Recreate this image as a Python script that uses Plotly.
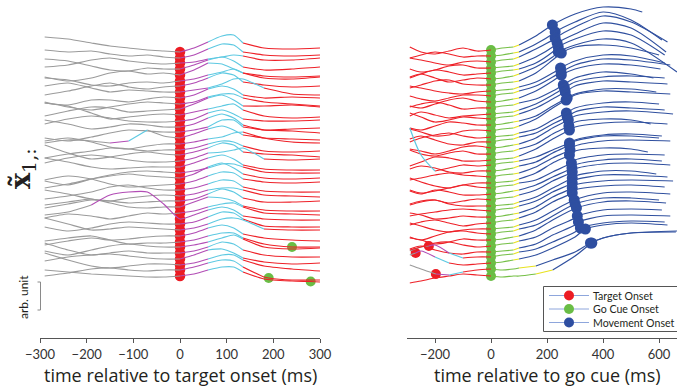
import plotly.graph_objects as go

# ---------------- data ----------------
# Left panel: aligned to target onset
T_L = [-290, -240, -190, -150, -110, -70, -35, 0, 30, 60, 90, 115, 135, 180, 240, 300]
BASE_L = [52, 58, 63, 69, 75, 81, 86, 92, 98, 104, 109, 115, 121, 127, 132, 138, 144, 150, 155, 161,
          167, 173, 178, 184, 190, 196, 201, 207, 213, 219, 224, 230, 236, 242, 247, 253, 259, 265, 270, 276]
OFF_L = [
    [-15, -13, -9, -6, -4, -2, -1, 0, -4, -10, -16, -17, -9, -4, -3, -4],
    [-8, -6, -7, -4, -2, -3, -1, 0, -3, -9, -14, -13, -6, -3, -2, -3],
    [4, 2, -3, -5, -2, 0, 1, 0, -1, -4, -6, -8, -7, -3, -3, -5],
    [-10, -8, -3, 1, 2, -1, 0, 0, -4, -9, -12, -8, -2, 1, 0, -2],
    [2, 6, 3, -2, -4, -1, -2, 0, -5, -12, -11, -6, -2, 1, 2, 1],
    [-3, -1, 4, 5, 2, 1, 2, 0, -2, -6, -9, -12, -8, -3, -2, -4],
    [9, 5, 0, -3, 1, 3, 1, 0, -3, -8, -13, -11, -4, -1, 1, 0],
    [-6, -9, -4, 0, -2, -1, 0, 0, -2, -4, -8, -13, -13, -4, 2, 3],
    [5, 7, 2, 2, 4, 1, -1, 0, -3, -9, -12, -9, -3, 0, -1, 0],
    [-2, 3, 6, 3, 0, -2, -1, 0, -2, -7, -10, -10, -6, -2, 0, 2],
    [7, 2, -2, -1, 3, 2, 1, 0, -5, -11, -14, -9, -3, -3, -4, -2],
    [-12, -9, -2, 4, 2, 0, -1, 0, -3, -6, -9, -11, -5, 1, 3, 2],
    [3, -2, -5, -3, 0, 1, 1, 0, -2, -8, -11, -7, -2, 0, 0, -1],
    [-7, -3, 2, 0, -3, -2, 0, 0, -3, -9, -13, -9, -2, 3, 2, 1],
    [6, 9, 5, 1, -2, -1, 0, 0, -2, -5, -12, -12, -5, -2, -1, 1],
    [5, 2, 3, 5, 3, -8, -2, 0, -4, -9, -12, -8, -3, 0, 1, 2],
    [-3, -6, -2, 3, 5, 2, 0, 0, -2, -5, -7, -11, -12, -6, -2, -1],
    [8, 4, 1, -2, -1, 1, 0, 0, -2, -6, -9, -8, -4, 1, 2, 1],
    [-10, -2, 4, 2, -1, -3, -1, 0, -3, -7, -12, -10, -3, -1, 0, 2],
    [2, -3, -6, -4, -1, 1, 1, 0, -3, -8, -9, -11, -13, -2, -1, -2],
    [-9, -5, 0, 2, 1, 0, 0, 0, -4, -9, -12, -8, -2, 2, 3, 3],
    [8, 12, 6, 2, -1, -2, -1, 0, -2, -5, -9, -9, -6, -1, 0, 0],
    [10, 6, 1, -2, -4, -2, -1, 0, -4, -11, -15, -10, -4, 0, 1, 0],
    [-4, -8, -5, 0, 3, 2, 1, 0, -3, -8, -12, -11, -5, -2, -1, -2],
    [9, 6, 2, -3, -5, -2, 0, 0, -2, -6, -10, -9, -3, 1, 2, 2],
    [-6, -2, 3, 5, 2, 0, -1, 0, -2, -6, -8, -8, -6, -1, 0, 1],
    [7, 3, -1, 0, 2, 1, 0, 0, -2, -7, -12, -9, -3, 1, 1, 0],
    [-2, -5, -8, -4, 0, 1, 0, 0, -5, -10, -9, -6, -1, 3, 4, 4],
    [5, 1, 3, 6, 3, 0, 1, 0, -2, -6, -9, -10, -6, 0, 1, 2],
    [-4, -7, -14, -24, -27, -27, -15, 0, -4, -9, -12, -9, -3, 0, 1, 1],
    [3, 7, 4, 0, -2, -1, 0, 0, -2, -7, -12, -11, -5, 2, 3, 3],
    [-12, -6, 0, -1, -3, -2, -1, 0, -2, -6, -11, -12, -10, -1, 0, 0],
    [9, 5, 2, 4, 3, 1, 0, 0, -3, -8, -11, -8, -2, 2, 4, 5],
    [-1, -4, -6, -2, 2, 1, 1, 0, -2, -6, -9, -9, -4, 2, 5, 5],
    [4, 8, 3, -1, -3, -1, 0, 0, -2, -5, -9, -12, -8, 0, 2, 1],
    [-10, -3, 2, 0, -2, 0, 0, 0, -2, -6, -11, -9, -3, 2, 4, 4],
    [2, -2, -4, -5, -3, -1, 0, 0, -4, -9, -10, -6, -1, 3, 5, 4],
    [-12, -5, 1, 3, 1, -1, -1, 0, -2, -6, -10, -10, -5, 1, 4, 6],
    [6, 3, -1, -2, 0, 1, 0, 0, -3, -7, -10, -9, -3, 7, 10, 10],
    [-6, -4, -2, -1, 0, 1, 1, 0, -2, -6, -9, -9, -4, 3, 5, 6],
]
GO_L_TRIAL = [33, 38, 39]
GO_L_TIME = [240, 190, 280]
GO_L_VAL = [5, 8, 5.5]
SPECIAL_L = [(15, -150, -110, "magenta"), (15, -110, -70, "cyan"), (29, -190, 0, "magenta"),
             (19, 135, 180, "cyan"), (31, 135, 180, "cyan"), (7, 135, 180, "cyan")]

# Right panel: aligned to go cue
T_R = [-290, -250, -200, -150, -100, -50, 0, 40, 80, 100, 160, 220, 300, 400, 500]
END_R = [540, 610, 630, 625, 620, 664, 600, 620, 640, 605, 580, 620, 630, 590, 640, 600, 620, 650, 570, 630,
         610, 600, 640, 560, 620, 610, 640, 590, 630, 650, 620, 640, 600, 625, 610, 640, 620, 630, 660, 664]
BASE_R = [50, 56, 62, 68, 73, 79, 85, 91, 96, 102, 108, 114, 119, 125, 131, 137, 142, 148, 154, 160,
          165, 171, 177, 183, 188, 194, 200, 206, 211, 217, 223, 229, 234, 240, 246, 252, 257, 263, 269, 276]
OFF_R = [
    [-3, 2, 4, 1, -2, 1, 0, -2, -3, -5, -14, -26, -36, -43, -41, -38],
    [2, -1, -4, -2, 1, 0, 0, -1, -3, -4, -12, -22, -34, -44, -36, -16],
    [-4, -2, 1, 3, 0, -1, 0, -2, -3, -5, -13, -22, -35, -46, -40, -20],
    [1, 4, 2, -2, -3, 0, 0, -1, -2, -4, -11, -21, -34, -45, -40, -16],
    [5, 1, -3, -1, 2, 1, 0, -2, -3, -4, -10, -21, -34, -42, -38, -18],
    [-2, -5, -1, 3, 1, -1, 0, -1, -3, -5, -12, -22, -34, -40, -36, -7],
    [3, 0, -4, -5, -1, 0, 0, -2, -3, -4, -12, -25, -38, -40, -37, -30],
    [-5, -3, 0, 2, 3, 1, 0, -1, -2, -4, -9, -18, -30, -36, -35, -28],
    [0, 3, 5, 2, -1, -1, 0, -2, -3, -5, -10, -19, -31, -37, -36, -31],
    [4, 6, 2, -2, -4, -1, 0, -1, -3, -4, -11, -21, -33, -38, -37, -33],
    [-1, -4, -6, -3, 1, 0, 0, -2, -3, -5, -9, -17, -30, -36, -34, -30],
    [2, -2, 1, 4, 2, 1, 0, -1, -2, -4, -10, -19, -32, -37, -38, -36],
    [-6, -2, 3, 1, -2, -1, 0, -2, -3, -5, -11, -20, -33, -38, -37, -35],
    [3, 5, 1, -3, -2, 0, 0, -1, -3, -4, -9, -19, -31, -36, -36, -33],
    [-2, 1, 5, 4, 0, -1, 0, -2, -3, -5, -12, -23, -36, -40, -39, -37],
    [5, 1, -2, -4, -1, 1, 0, -1, -2, -4, -8, -17, -29, -34, -35, -33],
    [-3, -6, -2, 2, 3, 0, 0, -2, -3, -5, -9, -18, -30, -35, -34, -32],
    [1, 3, 6, 3, -1, -2, 0, -1, -3, -4, -10, -20, -32, -36, -37, -34],
    [-4, 0, 2, -1, -3, 0, 0, -2, -3, -5, -10, -20, -32, -35, -34, -30],
    [6, 2, -3, -2, 1, 1, 0, -1, -2, -4, -11, -21, -33, -37, -38, -36],
    [-37, -10, 6, 3, 0, 1, 0, -2, -3, -4, -8, -15, -25, -30, -31, -29],
    [-2, -5, -3, 1, 2, 0, 0, -1, -3, -5, -9, -18, -30, -35, -35, -33],
    [3, 1, -2, -4, -2, -1, 0, -2, -3, -4, -10, -19, -31, -36, -37, -36],
    [-5, -1, 3, 5, 2, 0, 0, -1, -2, -4, -10, -20, -32, -35, -34, -31],
    [2, 5, 3, 0, -3, -1, 0, -2, -3, -5, -8, -16, -28, -33, -34, -33],
    [-3, 0, -4, -2, 1, 1, 0, -1, -3, -4, -9, -17, -29, -34, -35, -33],
    [4, 1, 0, 3, 1, -1, 0, -2, -3, -5, -10, -19, -31, -36, -37, -35],
    [-1, -4, -6, -2, 0, 0, 0, -1, -2, -4, -9, -18, -30, -35, -35, -32],
    [5, 3, 1, -1, -2, -1, 0, -2, -3, -5, -10, -19, -31, -36, -36, -34],
    [-4, -2, 2, 1, -1, 0, 0, -1, -3, -4, -10, -20, -32, -36, -37, -36],
    [2, -1, -3, 0, 3, 1, 0, -2, -3, -5, -11, -21, -33, -37, -38, -36],
    [-6, -3, 1, 3, 1, 0, 0, -1, -2, -4, -9, -18, -30, -36, -37, -35],
    [3, 6, 2, -2, -3, -1, 0, -2, -3, -5, -9, -18, -30, -36, -36, -34],
    [-2, 0, 4, 2, -1, 0, 0, -1, -3, -4, -10, -20, -30, -38, -39, -37],
    [4, 1, -3, -4, -1, 1, 0, -2, -3, -5, -9, -18, -28, -36, -37, -36],
    [-3, -6, -2, 1, 2, 0, 0, -1, -2, -4, -8, -17, -27, -36, -37, -36],
    [-6, -10, -12, -4, 1, 0, 0, -2, -3, -5, -8, -15, -25, -34, -36, -35],
    [-8, -12, -6, 0, 2, 1, 0, -1, -3, -4, -8, -15, -26, -38, -40, -38],
    [-4, 0, 4, 6, 3, 1, 0, 1, 0, -1, -3, -9, -17, -31, -36, -37],
    [7, 5, 2, 0, -2, -1, 0, 1, 0, 0, -2, -6, -20, -38, -43, -45],
]
MOVE_TIME_R = [219, 229, 229, 236, 240, 240, 251, 248, 250, 251, 258, 262, 265, 272, 268, 269, 272, 276, 278, 280,
               280, 280, 282, 280, 287, 289, 290, 290, 290, 290, 290, 297, 300, 305, 308, 312, 319, 337, 355, 360]
MOVE_VAL_R = [-25, -24, -24, -25, -26, -27, -32, -23, -24, -27, -23, -26, -27, -27, -31, -24, -25, -28, -28, -30,
              -22, -26, -27, -28, -25, -26, -28, -28, -28, -29, -30, -29, -30, -32, -30, -30, -29, -34, -26, -33]
TGT_R_TRIAL = [36, 37, 38]
TGT_R_TIME = [-222, -269, -197]
TGT_R_VAL = [-11, -10, 5]
GO_WIN_R = {38: (100, 160), 39: (160, 220)}
SPECIAL_R = [(20, -290, -200, "cyan"),
             (36, -290, -222, "gray"), (36, -222, -150, "magenta"), (36, -150, -100, "cyan"),
             (37, -290, -269, "gray"), (37, -269, -200, "magenta"), (37, -200, -150, "cyan"),
             (38, -290, -197, "gray"), (38, -197, -150, "magenta"), (38, -150, -100, "cyan")]

TICKS_L = [-300, -200, -100, 0, 100, 200, 300]
TICKS_R = [-200, 0, 200, 400, 600]
LEGEND_LABELS = ["Target Onset", "Go Cue Onset", "Movement Onset"]

# ---------------- style ----------------
COL = {"gray": "#9b9b9b", "magenta": "#b24db5", "cyan": "#5ec9e2", "red": "#ee2128",
       "green": "#74bf45", "yellow": "#e8e21f", "blue": "#30509f"}
DOT_RED, DOT_GREEN, DOT_BLUE = "#ec1c24", "#6abd45", "#2e4ea1"
W, H = 677, 387
FONT = "Lato"
TXT = "#231f20"


def px(x):
    return x / W


def py(y):
    return 1 - y / H


def build(times, vals, base, extra):
    pts = [(t, v) for t, v in zip(times, vals) if all(abs(t - e[0]) >= 8 for e in extra)]
    pts += list(extra)
    pts.sort()
    return [(t, base + v) for t, v in pts]


def color_L(i, m):
    for tr, s, e, c in SPECIAL_L:
        if tr == i and s <= m <= e:
            return c
    if m < 0:
        return "gray"
    if m < 60:
        return "magenta"
    if m < 135:
        return "cyan"
    return "red"


def color_R(i, m):
    for tr, s, e, c in SPECIAL_R:
        if tr == i and s <= m <= e:
            return c
    if m < 0:
        return "red"
    g, yl = GO_WIN_R.get(i, (80, 100))
    if m < g:
        return "green"
    if m < yl:
        return "yellow"
    return "blue"


def add_segments(buckets, pts, colfn, i):
    run = None
    for (t0, y0), (t1, y1) in zip(pts[:-1], pts[1:]):
        c = colfn(i, (t0 + t1) / 2)
        xs, ys = buckets.setdefault(c, ([], []))
        if c != run:
            if xs:
                xs.append(None)
                ys.append(None)
            xs.append(t0)
            ys.append(y0)
            run = c
        xs.append(t1)
        ys.append(y1)


fig = go.Figure()

# --- event dots (drawn below the lines) ---
fig.add_trace(go.Scatter(x=[0] * len(BASE_L), y=BASE_L, mode="markers", xaxis="x", yaxis="y",
                         marker=dict(color=DOT_RED, size=10.5, line=dict(width=0)), hoverinfo="skip"))
fig.add_trace(go.Scatter(x=GO_L_TIME, y=[BASE_L[i] + v for i, v in zip(GO_L_TRIAL, GO_L_VAL)],
                         mode="markers", xaxis="x", yaxis="y",
                         marker=dict(color=DOT_GREEN, size=10, line=dict(width=0)), hoverinfo="skip"))
fig.add_trace(go.Scatter(x=[0] * len(BASE_R), y=BASE_R, mode="markers", xaxis="x2", yaxis="y2",
                         marker=dict(color=DOT_GREEN, size=10, line=dict(width=0)), hoverinfo="skip"))
fig.add_trace(go.Scatter(x=TGT_R_TIME, y=[BASE_R[i] + v for i, v in zip(TGT_R_TRIAL, TGT_R_VAL)],
                         mode="markers", xaxis="x2", yaxis="y2",
                         marker=dict(color=DOT_RED, size=10, line=dict(width=0)), hoverinfo="skip"))
fig.add_trace(go.Scatter(x=MOVE_TIME_R, y=[b + v for b, v in zip(BASE_R, MOVE_VAL_R)],
                         mode="markers", xaxis="x2", yaxis="y2",
                         marker=dict(color=DOT_BLUE, size=11, line=dict(width=0)), hoverinfo="skip"))

# --- left traces ---
bl = {}
for i, (b, off) in enumerate(zip(BASE_L, OFF_L)):
    extra = [(t, v) for tr, t, v in zip(GO_L_TRIAL, GO_L_TIME, GO_L_VAL) if tr == i]
    add_segments(bl, build(T_L, off, b, extra), color_L, i)

# --- right traces ---
br = {}
for i, (b, off) in enumerate(zip(BASE_R, OFF_R)):
    times = T_R + [END_R[i]]
    extra = [(MOVE_TIME_R[i], MOVE_VAL_R[i])]
    extra += [(t, v) for tr, t, v in zip(TGT_R_TRIAL, TGT_R_TIME, TGT_R_VAL) if tr == i]
    add_segments(br, build(times, off, b, extra), color_R, i)

for buckets, xa, ya, sm in ((bl, "x", "y", 0.6), (br, "x2", "y2", 0.8)):
    for c in ["gray", "red", "blue", "green", "yellow", "magenta", "cyan"]:
        if c in buckets:
            xs, ys = buckets[c]
            fig.add_trace(go.Scatter(x=xs, y=ys, mode="lines", xaxis=xa, yaxis=ya,
                                     line=dict(color=COL[c], width=1.2, shape="spline", smoothing=sm),
                                     connectgaps=False, hoverinfo="skip"))

axis_common = dict(showline=True, linecolor="#555", linewidth=1, ticks="outside", ticklen=4,
                   tickcolor="#555", tickwidth=1, showgrid=False, zeroline=False, automargin=False,
                   tickfont=dict(family=FONT, size=13, color="#333"))
fig.update_layout(
    template="none",
    width=W, height=H, autosize=False,
    margin=dict(l=0, r=0, t=0, b=0, pad=0, autoexpand=False),
    paper_bgcolor="white", plot_bgcolor="white", showlegend=False,
    xaxis=dict(domain=[px(40), px(320)], range=[-300, 300], tickvals=TICKS_L, anchor="y", **axis_common),
    xaxis2=dict(domain=[px(407), 1.0], range=[-300, 664], tickvals=TICKS_R, anchor="y2", **axis_common),
    yaxis=dict(domain=[py(338), 1.0], range=[338, 0], visible=False, anchor="x", automargin=False),
    yaxis2=dict(domain=[py(338), 1.0], range=[338, 0], visible=False, anchor="x2", automargin=False),
)

TITLE_FONT = dict(family="Open Sans", size=18, color=TXT)
ann = []
ann.append(dict(x=px(180), y=py(375), xref="paper", yref="paper", showarrow=False,
                text="time relative to target onset (ms)", font=TITLE_FONT,
                xanchor="center", yanchor="middle"))
ann.append(dict(x=px(547), y=py(375), xref="paper", yref="paper", showarrow=False,
                text="time relative to go cue (ms)", font=TITLE_FONT,
                xanchor="center", yanchor="middle"))
ann.append(dict(x=px(22), y=py(168), xref="paper", yref="paper", showarrow=False, textangle=-90,
                text="<b>x\u0303</b><sub>1,:</sub>", font=dict(family="DejaVu Serif", size=27, color=TXT),
                xanchor="center", yanchor="middle"))
ann.append(dict(x=px(23), y=py(297), xref="paper", yref="paper", showarrow=False, textangle=-90,
                text="arb. unit", font=dict(family=FONT, size=12, color=TXT),
                xanchor="center", yanchor="middle"))

shapes = []
# scale bar
shapes.append(dict(type="line", xref="paper", yref="paper", x0=px(40.5), x1=px(40.5), y0=py(282), y1=py(310),
                   line=dict(color="#8a8a8a", width=1)))
for yy in (282, 310):
    shapes.append(dict(type="line", xref="paper", yref="paper", x0=px(37.5), x1=px(40.5), y0=py(yy), y1=py(yy),
                       line=dict(color="#8a8a8a", width=1)))

# legend box
shapes.append(dict(type="rect", xref="paper", yref="paper", x0=px(543.5), x1=px(678), y0=py(286.5), y1=py(331.5),
                   line=dict(color="#555", width=1), fillcolor="white"))
leg_cols = [DOT_RED, DOT_GREEN, DOT_BLUE]
for k, (lab, c) in enumerate(zip(LEGEND_LABELS, leg_cols)):
    yc = 295.5 + 13.5 * k
    shapes.append(dict(type="line", xref="paper", yref="paper", x0=px(549), x1=px(589), y0=py(yc), y1=py(yc),
                       line=dict(color="#8ea6dc", width=1)))
    shapes.append(dict(type="circle", xref="paper", yref="paper", x0=px(564), x1=px(574),
                       y0=py(yc + 5), y1=py(yc - 5), line=dict(width=0), fillcolor=c))
    ann.append(dict(x=px(591), y=py(yc), xref="paper", yref="paper", showarrow=False, text=lab,
                    font=dict(family=FONT, size=10.6, color=TXT), xanchor="left", yanchor="middle"))

fig.update_layout(annotations=ann, shapes=shapes)
fig.write_html("out.html")
